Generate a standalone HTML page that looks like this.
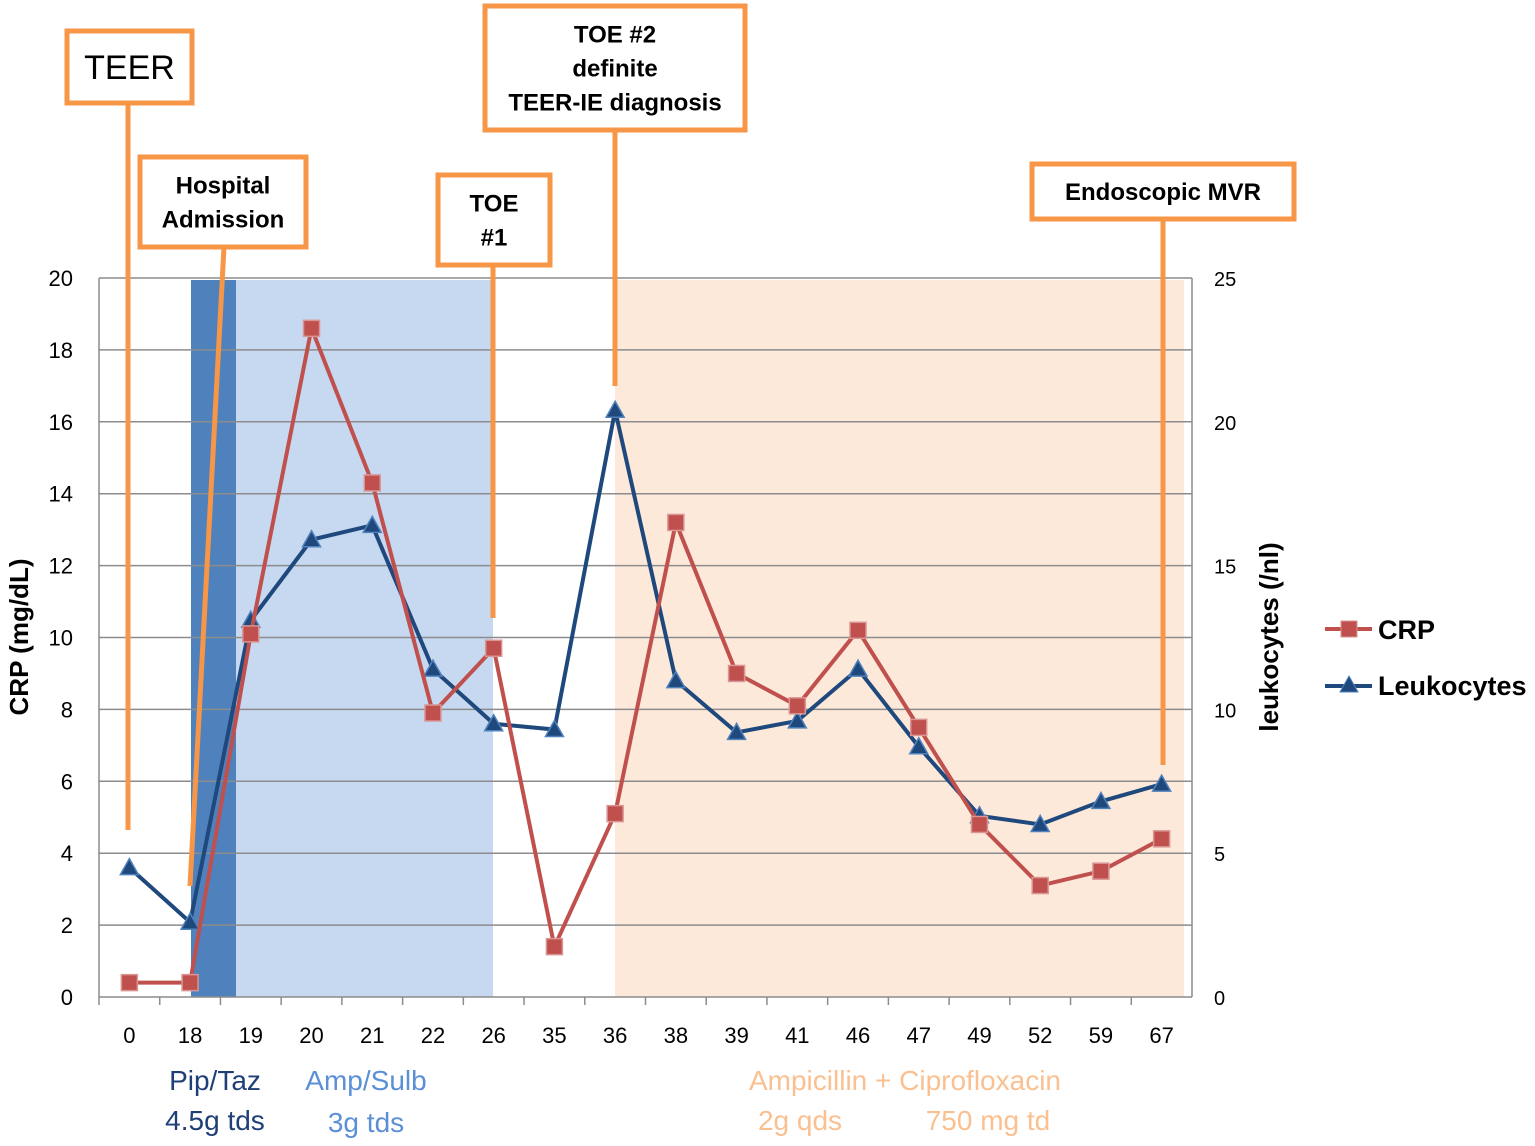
<!DOCTYPE html>
<html><head><meta charset="utf-8"><style>
body{margin:0;background:#fff;}
svg text{font-family:"Liberation Sans",sans-serif;}
</style></head><body>
<svg id="chart" width="1535" height="1141" viewBox="0 0 1535 1141" xmlns="http://www.w3.org/2000/svg">
<g id="bg"></g><g id="grid"></g><g id="ann"></g><g id="series"></g><g id="labels"></g>
</svg>
<script>
const categories=["0","18","19","20","21","22","26","35","36","38","39","41","46","47","49","52","59","67"];
const crpValues=[0.4,0.4,10.1,18.6,14.3,7.9,9.7,1.4,5.1,13.2,9.0,8.1,10.2,7.5,4.8,3.1,3.5,4.4];
const leukoValues=[4.5,2.6,13.1,15.9,16.4,11.4,9.5,9.3,20.4,11.0,9.2,9.6,11.4,8.7,6.3,6.0,6.8,7.4];
const leftTicks=[0,2,4,6,8,10,12,14,16,18,20];
const rightTicks=[0,5,10,15,20,25];
const NS="http://www.w3.org/2000/svg";
const L=99,R=1192,T=278,B=997;
const band=(R-L)/categories.length;
const x=i=>L+band*(i+0.5);
const yL=v=>B-(v/20)*(B-T);
const yR=v=>B-(v/25)*(B-T);
function mk(p,tag,a,txt){const e=document.createElementNS(NS,tag);for(const k in a)e.setAttribute(k,a[k]);if(txt!==undefined)e.textContent=txt;document.getElementById(p).appendChild(e);return e;}
// shaded regions
let e;
e=mk('bg','rect',{x:191,y:280,width:45,height:717,fill:'#4f81bd'});

e=mk('bg','rect',{x:236,y:280,width:257,height:717,fill:'#c6d9f1'});

e=mk('bg','rect',{x:615,y:280,width:569,height:717,fill:'#fce9da'});

// grid
leftTicks.forEach(v=>{
 if(v>0){e=mk('grid','line',{x1:L,x2:R,y1:yL(v),y2:yL(v),stroke:'#8c8c8c','stroke-width':1.5});
 }
 e=mk('labels','text',{x:73,y:yL(v)+8,'text-anchor':'end','font-size':22,fill:'#000'},String(v));
 
});
rightTicks.forEach(v=>{
 e=mk('labels','text',{x:1214,y:yR(v)+8,'font-size':20,fill:'#000'},String(v));
 
});
e=mk('grid','line',{x1:L,x2:L,y1:T,y2:B,stroke:'#8c8c8c','stroke-width':1.5});

e=mk('grid','line',{x1:R,x2:R,y1:T,y2:B,stroke:'#8c8c8c','stroke-width':1.5});

e=mk('grid','line',{x1:L,x2:R,y1:B,y2:B,stroke:'#8c8c8c','stroke-width':1.5});

categories.forEach((c,i)=>{
 e=mk('grid','line',{x1:L+band*i,x2:L+band*i,y1:B,y2:B+8,stroke:'#8c8c8c','stroke-width':1.5});
 
 e=mk('labels','text',{x:x(i),y:1043,'text-anchor':'middle','font-size':22,fill:'#000'},c);
 
});
// annotations
const OR='#f79646';
function box(x0,y0,w,h,lines,fs,name,bold){
 e=mk('ann','rect',{x:x0,y:y0,width:w,height:h,fill:'#fff',stroke:OR,'stroke-width':5});
 
 lines.forEach((t,k)=>{e=mk('ann','text',{x:x0+w/2,y:y0+h/2+(k-(lines.length-1)/2)*34+fs*0.36,'text-anchor':'middle','font-size':fs,'font-weight':bold?'bold':'normal',fill:'#000'},t);
 });
}
function ln(x1,y1,x2,y2,name){e=mk('ann','line',{x1,y1,x2,y2,stroke:OR,'stroke-width':5});}
ln(128,103,128,830,'teer-marker-line');
ln(224,247,190,886,'admission-marker-line');
ln(493,265,493,618,'toe1-marker-line');
ln(615,130,615,386,'toe2-marker-line');
ln(1163,219,1163,765,'mvr-marker-line');
box(67,31,125,72,['TEER'],34,'teer-label',false);
box(140,157,166,90,['Hospital','Admission'],24,'admission-label',true);
box(438,175,112,90,['TOE','#1'],24,'toe1-label',true);
box(485,6,260,124,['TOE #2','definite','TEER-IE diagnosis'],24,'toe2-label',true);
box(1032,164,262,55,['Endoscopic MVR'],24,'mvr-label',true);
// series
function series(vals,yf,color,name,marker){
 e=mk('series','polyline',{points:vals.map((v,i)=>x(i)+','+yf(v)).join(' '),fill:'none',stroke:color,'stroke-width':4});
 
 vals.forEach((v,i)=>{
  if(marker==='sq'){e=mk('series','rect',{x:x(i)-8,y:yf(v)-8,width:16,height:16,fill:'#c0504d',stroke:'#d99694','stroke-width':1.5});}
  else{const cx=x(i),cy=yf(v);e=mk('series','polygon',{points:`${cx},${cy-9} ${cx-9},${cy+7} ${cx+9},${cy+7}`,fill:'#1f497d',stroke:'#4f81bd','stroke-width':1.5});}
  
 });
}
series(leukoValues,yR,'#1f497d','leukocytes','tri');
series(crpValues,yL,'#c0504d','crp','sq');
// axis titles
e=mk('labels','text',{x:0,y:0,transform:'translate(28,637) rotate(-90)','text-anchor':'middle','font-size':26,'font-weight':'bold'},'CRP (mg/dL)');

e=mk('labels','text',{x:0,y:0,transform:'translate(1278,637) rotate(-90)','text-anchor':'middle','font-size':26,'font-weight':'bold'},'leukocytes (/nl)');

// legend
e=mk('labels','line',{x1:1325,x2:1372,y1:629,y2:629,stroke:'#c0504d','stroke-width':4});
e=mk('labels','rect',{x:1341,y:621,width:16,height:16,fill:'#c0504d',stroke:'#d99694'});
e=mk('labels','text',{x:1378,y:639,'font-size':27,'font-weight':'bold'},'CRP');
e=mk('labels','line',{x1:1325,x2:1372,y1:686,y2:686,stroke:'#1f497d','stroke-width':4});
e=mk('labels','polygon',{points:'1349,676 1340,692 1358,692',fill:'#1f497d',stroke:'#4f81bd'});
e=mk('labels','text',{x:1378,y:695,'font-size':27,'font-weight':'bold'},'Leukocytes');
// drug labels
function dl(t,cx,cy,col,n){e=mk('labels','text',{x:cx,y:cy,'text-anchor':'middle','font-size':28,fill:col},t);}
dl('Pip/Taz',215,1090,'#1f3f77','pip-taz-label');
dl('4.5g tds',215,1130,'#1f3f77','pip-taz-dose');
dl('Amp/Sulb',366,1090,'#5b8fd6','amp-sulb-label');
dl('3g tds',366,1132,'#5b8fd6','amp-sulb-dose');
dl('Ampicillin + Ciprofloxacin',905,1090,'#fac090','amp-cipro-label');
dl('2g qds',800,1130,'#fac090','ampicillin-dose');
dl('750 mg td',988,1130,'#fac090','cipro-dose');
</script>
</body></html>
